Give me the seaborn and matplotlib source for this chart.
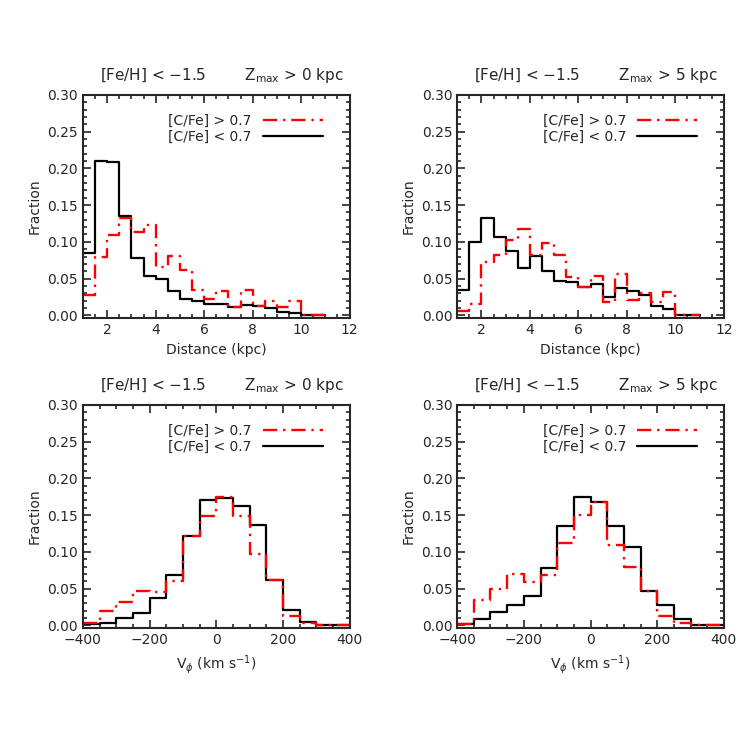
import numpy as np
import pandas as pd
import seaborn as sns
import matplotlib.pyplot as plt
from matplotlib.ticker import MultipleLocator

# bins
dist_edges = np.arange(1.0, 11.01, 0.5)
vphi_edges = np.arange(-400, 401, 50)

# Distance, Zmax > 0 kpc
dist_z0_cemp = [0.027, 0.079, 0.109, 0.133, 0.114, 0.123, 0.066, 0.081, 0.061, 0.034,
                0.022, 0.033, 0.011, 0.034, 0.013, 0.019, 0.011, 0.020, 0.0, 0.0]
dist_z0_norm = [0.085, 0.210, 0.208, 0.135, 0.078, 0.053, 0.049, 0.033, 0.022, 0.019,
                0.015, 0.016, 0.011, 0.014, 0.012, 0.010, 0.005, 0.003, 0.0, 0.0]

# Distance, Zmax > 5 kpc
dist_z5_cemp = [0.006, 0.015, 0.073, 0.082, 0.102, 0.118, 0.082, 0.099, 0.082, 0.052,
                0.038, 0.053, 0.018, 0.056, 0.021, 0.031, 0.018, 0.032, 0.0, 0.0]
dist_z5_norm = [0.034, 0.100, 0.133, 0.107, 0.088, 0.065, 0.081, 0.060, 0.047, 0.045,
                0.039, 0.043, 0.025, 0.037, 0.033, 0.028, 0.013, 0.009, 0.0, 0.0]

# V_phi, Zmax > 0 kpc
vphi_z0_cemp = [0.003, 0.020, 0.032, 0.047, 0.045, 0.060, 0.121, 0.149,
                0.175, 0.149, 0.097, 0.061, 0.012, 0.003, 0.0, 0.0]
vphi_z0_norm = [0.002, 0.003, 0.010, 0.017, 0.037, 0.069, 0.122, 0.170,
                0.173, 0.162, 0.137, 0.061, 0.021, 0.004, 0.0, 0.0]

# V_phi, Zmax > 5 kpc
vphi_z5_cemp = [0.002, 0.034, 0.050, 0.070, 0.059, 0.068, 0.112, 0.150,
                0.168, 0.109, 0.080, 0.046, 0.012, 0.003, 0.0, 0.0]
vphi_z5_norm = [0.002, 0.008, 0.018, 0.028, 0.040, 0.078, 0.135, 0.175,
                0.168, 0.135, 0.106, 0.046, 0.027, 0.008, 0.0, 0.0]

zmax_labels = ['0', '5']

sns.set_style('ticks')
plt.rcParams['font.family'] = ['DejaVu Sans']
plt.rcParams['mathtext.fontset'] = 'dejavusans'

fig = plt.figure(figsize=(7.47, 7.47), dpi=100)

panels = [
    ([0.111, 0.574, 0.357, 0.299], dist_edges, dist_z0_cemp, dist_z0_norm, zmax_labels[0], 'dist'),
    ([0.612, 0.574, 0.357, 0.299], dist_edges, dist_z5_cemp, dist_z5_norm, zmax_labels[1], 'dist'),
    ([0.111, 0.159, 0.357, 0.299], vphi_edges, vphi_z0_cemp, vphi_z0_norm, zmax_labels[0], 'vphi'),
    ([0.612, 0.159, 0.357, 0.299], vphi_edges, vphi_z5_cemp, vphi_z5_norm, zmax_labels[1], 'vphi'),
]

linea_dd = (0, (6, 2.5, 1, 2.5))    # dash-dot tipo IDL

for rect, edges, cemp, norm, zl, kind in panels:
    ax = fig.add_axes(rect)
    centers = (edges[:-1] + edges[1:]) / 2
    ancho = float(edges[1] - edges[0])
    rango = (float(edges[0]), float(edges[-1]))

    df_cemp = pd.DataFrame({'x': centers, 'w': cemp})
    df_norm = pd.DataFrame({'x': centers, 'w': norm})

    # negro primero, rojo encima
    sns.histplot(data=df_norm, x='x', weights='w', binwidth=ancho, binrange=rango,
                 element='step', fill=False, color='black', linestyle='-', linewidth=1.6,
                 ax=ax, label='[C/Fe] < 0.7')
    sns.histplot(data=df_cemp, x='x', weights='w', binwidth=ancho, binrange=rango,
                 element='step', fill=False, color='red', linestyle=linea_dd, linewidth=1.7,
                 ax=ax, label='[C/Fe] > 0.7')

    if kind == 'dist':
        ax.set_xlim(1, 12)
        ax.xaxis.set_major_locator(MultipleLocator(2))
        ax.xaxis.set_minor_locator(MultipleLocator(0.5))
        ax.set_xlabel('Distance (kpc)', fontsize=10)
    else:
        ax.set_xlim(-400, 400)
        ax.xaxis.set_minor_locator(MultipleLocator(50))
        ax.set_xticks([-400, -200, 0, 200, 400])
        ax.set_xticklabels(['\u2212400', '\u2212200', '0', '200', '400'])
        ax.set_xlabel(r'V$_{\phi}$ (km s$^{-1}$)', fontsize=10)

    ax.set_ylim(-0.004, 0.30)
    ax.yaxis.set_major_locator(MultipleLocator(0.05))
    ax.yaxis.set_minor_locator(MultipleLocator(0.01))
    ax.yaxis.set_major_formatter(plt.FormatStrFormatter('%.2f'))
    ax.set_ylabel('Fraction', fontsize=10)

    ax.tick_params(which='both', direction='in', top=True, right=True, labelsize=10, width=1.2)
    ax.tick_params(which='major', length=6)
    ax.tick_params(which='minor', length=3)
    for s in ax.spines.values():
        s.set_linewidth(1.5)

    ax.set_title('[Fe/H] < \u22121.5        Z$_{\\rm max}$ > ' + zl + ' kpc',
                 fontsize=11, pad=11, x=0.52)

    handles, labels = ax.get_legend_handles_labels()
    ax.legend(handles[::-1], labels[::-1], loc='upper right', bbox_to_anchor=(0.946, 0.97),
              frameon=False, markerfirst=False, handlelength=4.3, labelspacing=0.1,
              fontsize=10, handletextpad=0.8)

fig.savefig('out.png', dpi=100)
